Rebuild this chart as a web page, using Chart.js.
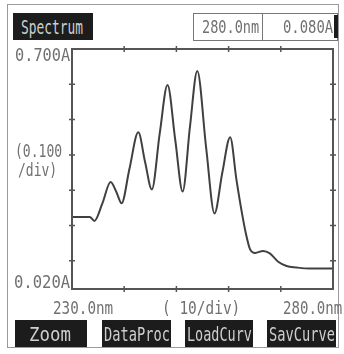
<!DOCTYPE html>
<html>
<head>
<meta charset="utf-8">
<script src="https://cdn.jsdelivr.net/npm/chart.js@4.4.0/dist/chart.umd.min.js"></script>
<style>
  html, body { margin: 0; padding: 0; background: #fff; }
  #wrap { position: relative; width: 344px; height: 354px; overflow: hidden; }
  #frame { position: absolute; left: 7px; top: 4px; width: 332px; height: 344px; border: 1.5px solid #9a9a9a; box-sizing: border-box; }
  canvas { position: absolute; left: 0; top: 0; }
  .lbl { position: absolute; font-family: "DejaVu Sans Mono", monospace; white-space: nowrap; line-height: 1; color: #707070; }
  .blk { position: absolute; background: #1c1c1c; }
  .box { position: absolute; border: 1.5px solid #777; box-sizing: border-box; }
  .sep { position: absolute; background: #777; }
</style>
</head>
<body>
<div id="wrap">
  <div id="frame"></div>
  <canvas id="specChart" width="344" height="354"></canvas>
</div>
<script>
// spectrum
const wavelengths = [230.0, 233.4, 234.3, 235.8, 237.4, 238.5, 239.5, 241.0, 242.7, 244.0,
  245.3, 246.8, 248.3, 249.8, 251.2, 252.6, 254.0, 255.7, 257.3, 258.8, 260.3, 261.5,
  262.5, 263.3, 264.1, 265.1, 266.6, 267.9, 269.5, 271.1, 273.0, 275.6, 280.0];
const absorbance = [0.224, 0.224, 0.213, 0.262, 0.323, 0.295, 0.263, 0.360, 0.464, 0.380,
  0.302, 0.460, 0.598, 0.440, 0.296, 0.480, 0.638, 0.420, 0.234, 0.350, 0.450, 0.330,
  0.240, 0.178, 0.133, 0.122, 0.128, 0.121, 0.097, 0.085, 0.081, 0.078, 0.078];

const xMin = 230, xMax = 280;
const yMin = 0.02, yMax = 0.70;
const xTicks = [240, 250, 260, 270];
const yTicks = [0.1, 0.2, 0.3, 0.4, 0.5, 0.6];

const AXIS = '#555555';

const points = wavelengths.map((w, i) => ({ x: w, y: absorbance[i] }));

const frameAndTicks = {
  id: 'frameAndTicks',
  afterDatasetsDraw(chart) {
    const ctx = chart.ctx;
    const a = chart.chartArea;
    const xs = chart.scales.x;
    const ys = chart.scales.y;
    ctx.save();
    ctx.strokeStyle = AXIS;
    ctx.lineWidth = 2;
    ctx.strokeRect(a.left, a.top, a.right - a.left, a.bottom - a.top);
    ctx.lineWidth = 1.5;
    ctx.beginPath();
    yTicks.forEach(v => {
      const y = ys.getPixelForValue(v);
      ctx.moveTo(a.left - 3, y); ctx.lineTo(a.left + 3, y);
      ctx.moveTo(a.right - 3, y); ctx.lineTo(a.right + 3, y);
    });
    xTicks.forEach(v => {
      const x = xs.getPixelForValue(v);
      ctx.moveTo(x, a.top - 3); ctx.lineTo(x, a.top + 3);
      ctx.moveTo(x, a.bottom - 3); ctx.lineTo(x, a.bottom + 3);
    });
    ctx.stroke();
    ctx.restore();
  }
};

const ctx = document.getElementById('specChart').getContext('2d');
new Chart(ctx, {
  type: 'line',
  data: {
    datasets: [{
      data: points,
      borderColor: '#404040',
      borderWidth: 2,
      pointRadius: 0,
      fill: false,
      cubicInterpolationMode: 'monotone'
    }]
  },
  options: {
    responsive: false,
    animation: false,
    devicePixelRatio: 1,
    layout: { padding: { left: 72, top: 49, right: 11, bottom: 65 } },
    plugins: { legend: { display: false }, tooltip: { enabled: false } },
    scales: {
      x: { type: 'linear', display: false, min: xMin, max: xMax },
      y: { type: 'linear', display: false, min: yMin, max: yMax }
    }
  },
  plugins: [frameAndTicks]
});

// text around the plot, LCD style: squeezed to the width seen in the picture
const wrap = document.getElementById('wrap');
function block(x0, y0, x1, y1, cls) {
  const d = document.createElement('div');
  d.className = cls;
  d.style.left = x0 + 'px'; d.style.top = y0 + 'px';
  d.style.width = (x1 - x0) + 'px'; d.style.height = (y1 - y0) + 'px';
  wrap.appendChild(d);
}
function label(text, x0, x1, cy, size, color) {
  const d = document.createElement('div');
  d.className = 'lbl';
  d.textContent = text;
  d.style.fontSize = size + 'px';
  if (color) d.style.color = color;
  wrap.appendChild(d);
  const w = d.offsetWidth, h = d.offsetHeight;
  d.style.left = x0 + 'px';
  d.style.top = (cy - h / 2) + 'px';
  d.style.transformOrigin = '0 50%';
  d.style.transform = 'scale(' + ((x1 - x0) / w).toFixed(3) + ', 1.15)';
}

block(13, 13, 93, 40, 'blk');
label('Spectrum', 21, 83, 27, 17, '#cfcfcf');
block(193, 13, 338, 41, 'box');
block(262, 13, 263, 41, 'sep');
block(334, 15, 338, 38, 'blk');
label('280.0nm', 202, 259, 27, 15);
label('0.080A', 283, 333, 27, 15);

label('0.700A', 15, 70, 55, 15);
label('(0.100', 15, 62, 151, 15);
label('/div)', 18, 57, 170, 15);
label('0.020A', 14, 70, 282, 15);

label('230.0nm', 53, 113, 308, 15);
label('( 10/div)', 162, 240, 308, 15);
label('280.0nm', 283, 342, 308, 15);

block(15, 320, 87, 347, 'blk');
block(102, 320, 171, 347, 'blk');
block(185, 320, 253, 347, 'blk');
block(267, 320, 336, 347, 'blk');
label('Zoom', 29, 71, 334, 17, '#cfcfcf');
label('DataProc', 104, 170, 334, 17, '#cfcfcf');
label('LoadCurv', 187, 252, 334, 17, '#cfcfcf');
label('SavCurve', 269, 335, 334, 17, '#cfcfcf');
</script>
</body>
</html>
